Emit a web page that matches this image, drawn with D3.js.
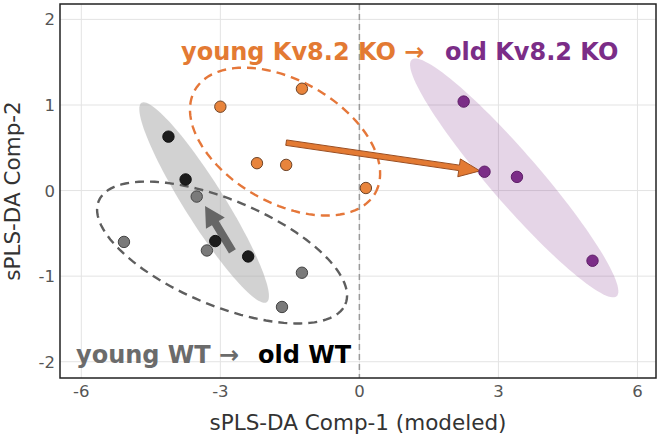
<!DOCTYPE html>
<html><head><meta charset="utf-8">
<script src="https://cdn.jsdelivr.net/npm/d3@7"></script>
<style>body{margin:0;background:#fff}svg{display:block}</style>
</head><body><svg id="c" width="661" height="437"></svg>
<script>
// ---- data ----
const youngKO = [[-3.0,0.98],[-1.24,1.19],[-2.21,0.32],[-1.58,0.30],[0.14,0.03]];
const oldKO   = [[2.25,1.04],[2.70,0.22],[3.40,0.16],[5.03,-0.82]];
const oldWT   = [[-4.12,0.63],[-3.75,0.13],[-3.11,-0.59],[-2.40,-0.77]];
const youngWT = [[-3.51,-0.07],[-5.08,-0.60],[-3.29,-0.70],[-1.24,-0.96],[-1.67,-1.36]];
// ellipses: center, conjugate semi-axis vectors (data units)
const ellOldWT   = {c:[-3.35,-0.14], a:[1.35,-1.165], b:[0.365,0.124]};
const ellOldKO   = {c:[3.34,0.148], a:[2.21,-1.382], b:[0.408,0.191]};
const ellYoungKO = {c:[-1.604,0.572], a:[1.943,-0.604], b:[0.658,0.618]};
const ellYoungWT = {c:[-2.963,-0.724], a:[2.661,-0.603], b:[0.440,0.569]};
// arrows
const arrowKO = [[-1.58,0.56],[2.60,0.23]];
const arrowWT = [[-2.74,-0.71],[-3.33,-0.18]];
const xTicks = [-6,-3,0,3,6];
const yTicks = [-2,-1,0,1,2];

const svg = d3.select("#c");
const L=60,R=656,T=4,B=378;
const x = d3.scaleLinear().domain([-6.46,6.40]).range([L,R]);
const y = d3.scaleLinear().domain([-2.19,2.18]).range([B,T]);
const FONT = "'DejaVu Sans', sans-serif";

// grid
svg.append("g").selectAll("line").data(xTicks).join("line")
  .attr("x1",d=>x(d)).attr("x2",d=>x(d)).attr("y1",T).attr("y2",B)
  .attr("stroke","#e3e3e3").attr("stroke-width",1);
svg.append("g").selectAll("line").data(yTicks).join("line")
  .attr("y1",d=>y(d)).attr("y2",d=>y(d)).attr("x1",L).attr("x2",R)
  .attr("stroke","#e3e3e3").attr("stroke-width",1);

function ellPath(e){
  const pts=d3.range(0,361,3).map(t=>{const r=t*Math.PI/180;
    return [x(e.c[0]+Math.cos(r)*e.a[0]+Math.sin(r)*e.b[0]), y(e.c[1]+Math.cos(r)*e.a[1]+Math.sin(r)*e.b[1])];});
  return d3.line().curve(d3.curveLinearClosed)(pts);
}
svg.append("path").attr("d",ellPath(ellOldWT)).attr("fill","#a6a6a6").attr("fill-opacity",0.5);
svg.append("path").attr("d",ellPath(ellOldKO)).attr("fill","#7b2d87").attr("fill-opacity",0.2);
svg.append("path").attr("d",ellPath(ellYoungKO)).attr("fill","none").attr("stroke","#e5773a")
  .attr("stroke-width",2.4).attr("stroke-dasharray","9,6");
svg.append("path").attr("d",ellPath(ellYoungWT)).attr("fill","none").attr("stroke","#5e5e5e")
  .attr("stroke-width",2.4).attr("stroke-dasharray","9,6");

// zero line
svg.append("line").attr("x1",x(0)).attr("x2",x(0)).attr("y1",T).attr("y2",B)
  .attr("stroke","#9a9a9a").attr("stroke-width",1.5).attr("stroke-dasharray","6,4");

function arrowPoly(a, shaft, hl, hw){
  const x0=x(a[0][0]),y0=y(a[0][1]),x1=x(a[1][0]),y1=y(a[1][1]);
  const dx=x1-x0,dy=y1-y0,len=Math.hypot(dx,dy),ux=dx/len,uy=dy/len,px=-uy,py=ux;
  const bx=x1-ux*hl,by=y1-uy*hl;
  const p=[[x0+px*shaft/2,y0+py*shaft/2],[bx+px*shaft/2,by+py*shaft/2],[bx+px*hw/2,by+py*hw/2],[x1,y1],
    [bx-px*hw/2,by-py*hw/2],[bx-px*shaft/2,by-py*shaft/2],[x0-px*shaft/2,y0-py*shaft/2]];
  return "M"+p.map(q=>q.join(",")).join("L")+"Z";
}
svg.append("path").attr("d",arrowPoly(arrowWT,8,20,22)).attr("fill","#666");
svg.append("path").attr("d",arrowPoly(arrowKO,5.5,21,18)).attr("fill","#e37a33")
  .attr("stroke","#9a4e22").attr("stroke-width",1).attr("stroke-linejoin","round");

function pts(data, fill, stroke){
  svg.append("g").selectAll("circle").data(data).join("circle")
    .attr("cx",d=>x(d[0])).attr("cy",d=>y(d[1])).attr("r",5.7)
    .attr("fill",fill).attr("stroke",stroke).attr("stroke-width",1);
}
pts(youngWT,"#7a7a7a","#444");
pts(oldWT,"#1c1c1c","#111");
pts(youngKO,"#e8843c","#6e4428");
pts(oldKO,"#7b2d87","#5e1f68");

// frame
svg.append("rect").attr("x",L).attr("y",T).attr("width",R-L).attr("height",B-T)
  .attr("fill","none").attr("stroke","#222").attr("stroke-width",1.5);

// tick labels
svg.append("g").selectAll("text").data(xTicks).join("text")
  .attr("x",d=>x(d)).attr("y",397).attr("text-anchor","middle")
  .attr("font-family",FONT).attr("font-size",16.5).attr("fill","#555").text(d=>d);
svg.append("g").selectAll("text").data(yTicks).join("text")
  .attr("x",55).attr("y",d=>y(d)+6).attr("text-anchor","end")
  .attr("font-family",FONT).attr("font-size",16.5).attr("fill","#555").text(d=>d);

// axis titles
svg.append("text").attr("x",358).attr("y",430).attr("text-anchor","middle")
  .attr("font-family",FONT).attr("font-size",21.5).attr("fill","#333").text("sPLS-DA Comp-1 (modeled)");
svg.append("text").attr("transform","translate(20,191) rotate(-90)").attr("text-anchor","middle")
  .attr("font-family",FONT).attr("font-size",21.5).attr("fill","#333").text("sPLS-DA Comp-2");

// annotations
function lab(tx,ty,str,col){
  svg.append("text").attr("x",tx).attr("y",ty).attr("font-family",FONT).attr("font-weight","bold")
    .attr("font-size",24).attr("fill",col).text(str);
}
lab(181,60,"young Kv8.2 KO →","#e37a33");
lab(445,60,"old Kv8.2 KO","#7b2d87");
lab(76,363,"young WT →","#6b6b6b");
lab(258,363,"old WT","#000");
</script></body></html>
